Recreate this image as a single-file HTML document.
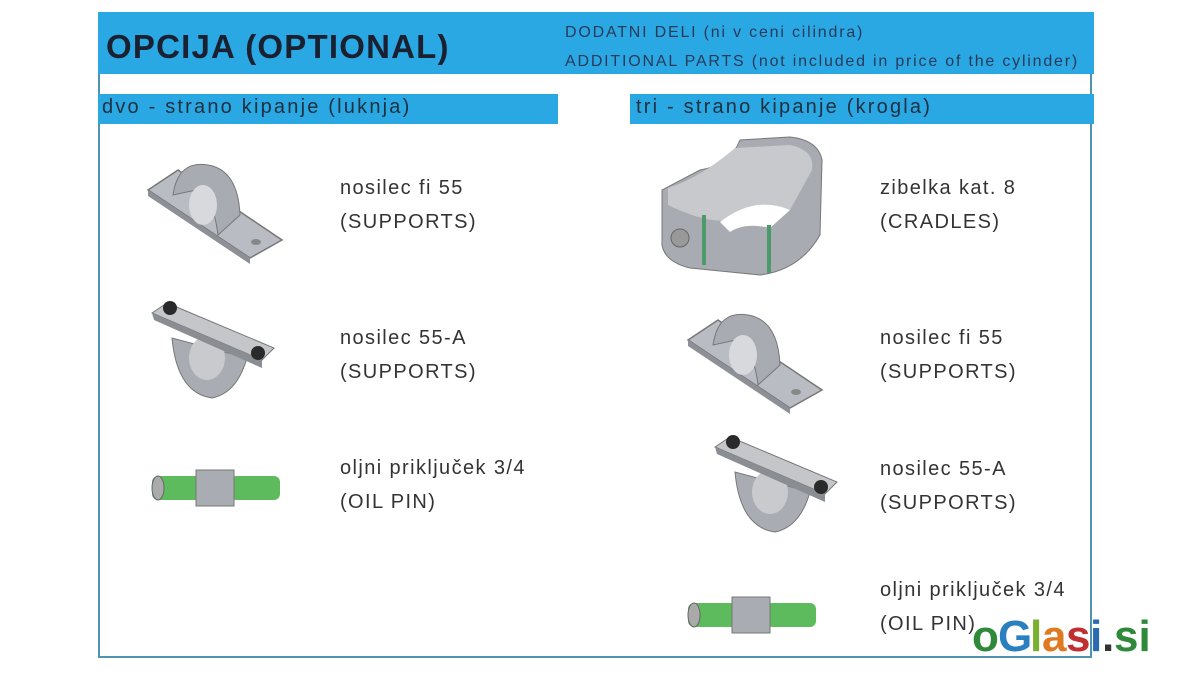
<!DOCTYPE html>
<html><head><meta charset="utf-8"><style>
body{margin:0;width:1200px;height:675px;background:#fff;position:relative;overflow:hidden;font-family:"Liberation Sans",sans-serif}
.t{position:absolute;font-size:20px;letter-spacing:1.4px;color:#333;line-height:34px;white-space:nowrap}
</style></head><body>
<div style="position:absolute;left:98px;top:12px;width:994px;height:646px;border:2px solid #4f93ae;box-sizing:border-box"></div>
<div style="position:absolute;left:98px;top:12px;width:996px;height:62px;background:#29a8e4"></div>
<div style="position:absolute;left:106px;top:28px;font-size:33px;font-weight:bold;color:#1a2030;letter-spacing:1.2px;white-space:nowrap">OPCIJA (OPTIONAL)</div>
<div style="position:absolute;left:565px;top:18px;font-size:16px;letter-spacing:1.8px;color:#2a3a5a;line-height:29px;white-space:nowrap">DODATNI DELI (ni v ceni cilindra)<br>ADDITIONAL PARTS (not included in price of the cylinder)</div>
<div style="position:absolute;left:98px;top:94px;width:460px;height:30px;background:#29a8e4"></div>
<div style="position:absolute;left:102px;top:96px;font-size:20px;letter-spacing:2.2px;color:#203040;white-space:nowrap">dvo - strano kipanje (luknja)</div>
<div style="position:absolute;left:630px;top:94px;width:464px;height:30px;background:#29a8e4"></div>
<div style="position:absolute;left:636px;top:96px;font-size:20px;letter-spacing:2.2px;color:#203040;white-space:nowrap">tri - strano kipanje (krogla)</div>

<div class="t" style="left:340px;top:171px">nosilec fi 55<br>(SUPPORTS)</div>
<div class="t" style="left:340px;top:321px">nosilec 55-A<br>(SUPPORTS)</div>
<div class="t" style="left:340px;top:451px">oljni priključek 3/4<br>(OIL PIN)</div>
<div class="t" style="left:880px;top:171px">zibelka kat. 8<br>(CRADLES)</div>
<div class="t" style="left:880px;top:321px">nosilec fi 55<br>(SUPPORTS)</div>
<div class="t" style="left:880px;top:452px">nosilec 55-A<br>(SUPPORTS)</div>
<div class="t" style="left:880px;top:573px">oljni priključek 3/4<br>(OIL PIN)</div>

<svg width="1200" height="675" style="position:absolute;left:0;top:0">
<defs>
<g id="sup">
<polygon points="0,30 30,10 134,80 102,98" fill="#b9bcc2" stroke="#777" stroke-width="1.5"/>
<polygon points="0,30 102,98 102,104 0,36" fill="#8d9096"/>
<path d="M25,35 Q30,0 60,5 Q90,10 92,55 L70,75 Q65,35 48,30 Z" fill="#a8abb1" stroke="#777"/>
<ellipse cx="55" cy="45" rx="14" ry="20" fill="#d7d9dc"/>
<ellipse cx="108" cy="82" rx="5" ry="3" fill="#888"/>
</g>
<g id="sa">
<path d="M20,40 Q25,95 60,100 Q85,95 95,60 Z" fill="#a9acb2" stroke="#777"/>
<ellipse cx="55" cy="60" rx="18" ry="22" fill="#c8cace"/>
<polygon points="0,15 15,5 122,50 110,62" fill="#c4c6ca" stroke="#777"/>
<polygon points="0,15 110,62 110,70 2,22" fill="#8a8d92"/>
<circle cx="18" cy="10" r="7" fill="#2a2a2a"/>
<circle cx="106" cy="55" r="7" fill="#2a2a2a"/>
</g>
<g id="pin">
<rect x="0" y="8" width="50" height="24" rx="6" fill="#5dba5d"/>
<rect x="78" y="8" width="50" height="24" rx="6" fill="#5dba5d"/>
<rect x="44" y="2" width="38" height="36" fill="#a9acb2" stroke="#777"/>
<ellipse cx="6" cy="20" rx="6" ry="12" fill="#aaa" stroke="#666"/>
</g>
</defs>
<use href="#sup" x="148" y="160"/>
<use href="#sa" x="152" y="298"/>
<use href="#pin" x="152" y="468"/>
<use href="#sup" x="688" y="310"/>
<use href="#sa" x="715" y="432"/>
<use href="#pin" x="688" y="595"/>
<g>
<path d="M662,190 L662,245 Q665,262 690,268 L760,275 Q800,270 820,235 L822,160 Q818,140 790,137 L740,140 Q730,165 700,170 Z" fill="#a8abb1" stroke="#777"/>
<path d="M668,188 Q700,178 735,148 L790,145 Q815,150 812,170 L790,210 Q760,200 740,215 Q720,230 668,205 Z" fill="#c7c9cd"/>
<path d="M720,222 Q755,195 790,210 L770,228 Q745,222 730,232 Z" fill="#fff"/>
<rect x="702" y="215" width="4" height="50" fill="#4a9a6a"/>
<rect x="767" y="225" width="4" height="48" fill="#4a9a6a"/>
<circle cx="680" cy="238" r="9" fill="#999" stroke="#666"/>
</g>
<text x="972" y="651" font-family="Liberation Sans,sans-serif" font-size="44" font-weight="bold" fill="#2e8a3a">o</text>
<text x="998" y="651" font-family="Liberation Sans,sans-serif" font-size="44" font-weight="bold" fill="#2a7fc0">G</text>
<text x="1030" y="651" font-family="Liberation Sans,sans-serif" font-size="44" font-weight="bold" fill="#7ab030">l</text>
<text x="1042" y="651" font-family="Liberation Sans,sans-serif" font-size="44" font-weight="bold" fill="#e07a20">a</text>
<text x="1066" y="651" font-family="Liberation Sans,sans-serif" font-size="44" font-weight="bold" fill="#c03030">s</text>
<text x="1090" y="651" font-family="Liberation Sans,sans-serif" font-size="44" font-weight="bold" fill="#2a6ab0">i</text>
<text x="1102" y="651" font-family="Liberation Sans,sans-serif" font-size="44" font-weight="bold" fill="#333">.</text>
<text x="1114" y="651" font-family="Liberation Sans,sans-serif" font-size="44" font-weight="bold" fill="#2e8a3a">si</text>
</svg>
</body></html>
